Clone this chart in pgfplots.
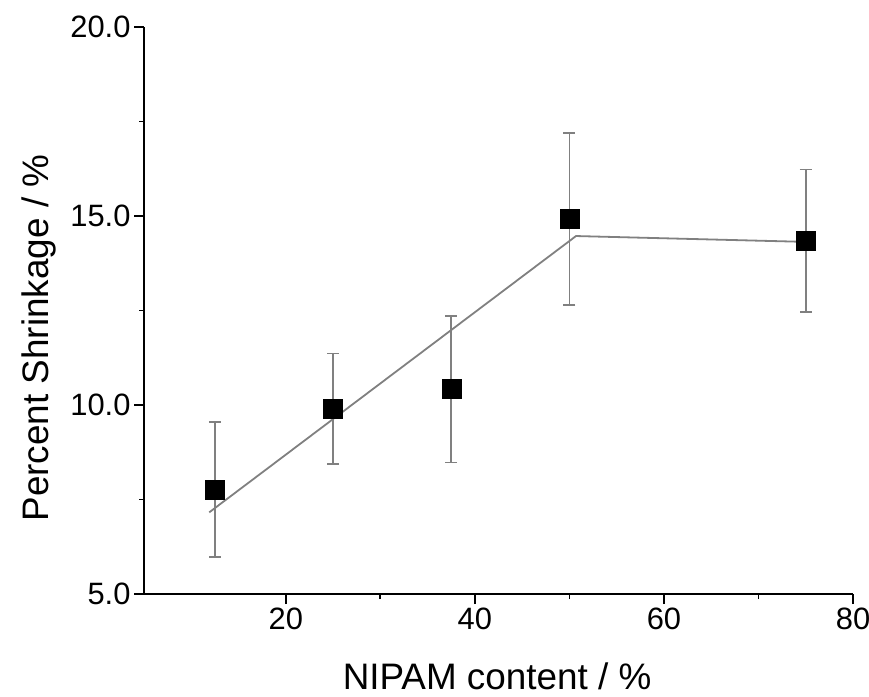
\documentclass[border=0pt]{standalone}
\usepackage{fontspec}
\setmainfont{Liberation Sans}
\usepackage{pgfplots}
\pgfplotsset{compat=1.18}
\definecolor{errgray}{HTML}{808080}
\begin{document}
\begin{tikzpicture}
\begin{axis}[
  scale only axis,
  width=709bp, height=567bp,
  xmin=5, xmax=80, ymin=5, ymax=20,
  axis x line=bottom, axis y line=left,
  axis line style={-, line width=1.8bp, black},
  xtick={20,40,60,80}, ytick={5,10,15,20},
  minor x tick num=1, minor y tick num=1,
  tick align=outside,
  major tick length=10bp, minor tick length=5bp,
  every tick/.style={black, line width=1.8bp},
  tick label style={font=\fontsize{31}{36}\selectfont},
  /pgf/number format/assume math mode=true,
  yticklabel style={/pgf/number format/fixed, /pgf/number format/fixed zerofill, /pgf/number format/precision=1},
  label style={font=\fontsize{37}{44}\selectfont},
  xlabel={NIPAM content / \%},
  ylabel={Percent Shrinkage / \%},
  xlabel style={at={(axis description cs:0.498,-0.168)}, anchor=base},
  ylabel style={at={(axis description cs:-0.119,0.4515)}, anchor=south},
  clip=false,
]
\addplot[only marks, mark=square*, mark size=9.5bp, mark options={fill=black, draw=black},
  error bars/.cd, y dir=both, y explicit,
  error bar style={line width=1.8bp, errgray},
  error mark options={rotate=90, mark size=6bp, line width=1.8bp, errgray}]
  coordinates {
  (12.5,7.755) +- (0,1.785)
  (25,9.895) +- (0,1.465)
  (37.5,10.42) +- (0,1.94)
  (50,14.92) +- (0,2.27)
  (75,14.34) +- (0,1.89)
  };
\addplot[errgray, line width=1.8bp, no marks] coordinates {
  (11.9,7.16) (50.7,14.47) (75.8,14.31)
  };
\end{axis}
\pgfresetboundingbox
\path ([xshift=-144bp,yshift=-102bp]current axis.south west) rectangle ([xshift=16bp,yshift=27bp]current axis.north east);
\end{tikzpicture}
\end{document}
